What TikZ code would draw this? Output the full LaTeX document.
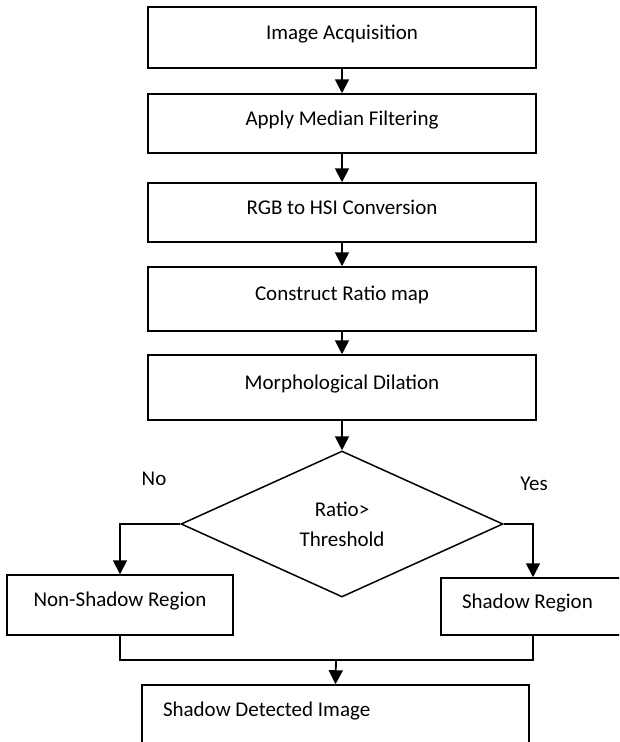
\documentclass[tikz,border=0pt]{standalone}
\usepackage{fontspec}
\setmainfont{Carlito}
\usetikzlibrary{shapes.geometric,arrows.meta}
\tikzset{
  stepbox/.style={draw, line width=1.5pt, rectangle, inner sep=0pt,
    text height=10pt, text depth=7pt, font=\fontsize{21}{30}\selectfont},
  decbox/.style={draw, line width=1.5pt, diamond, inner sep=0pt,
    minimum width=322pt, minimum height=146pt, align=center,
    font=\fontsize{21}{30}\selectfont},
  lbl/.style={inner sep=0pt, font=\fontsize{21}{25}\selectfont},
  arr/.style={line width=1.8pt, -{Triangle[width=14pt,length=14pt]}},
  conn/.style={line width=1.8pt},
}
\begin{document}
\begin{tikzpicture}[x=1pt,y=-1pt]
\useasboundingbox (0,0) rectangle (619,742);
\clip (0,0) rectangle (619,742);
\fill[white] (0,0) rectangle (619,742);
\node[stepbox, minimum width=388pt, minimum height=61pt] (b1) at (342,37.5) {Image Acquisition};
\node[stepbox, minimum width=388pt, minimum height=59pt] (b2) at (342,123.5) {Apply Median Filtering};
\node[stepbox, minimum width=388pt, minimum height=59pt] (b3) at (342,212.5) {RGB to HSI Conversion};
\node[stepbox, minimum width=388pt, minimum height=64pt] (b4) at (342,299) {Construct Ratio map};
\node[stepbox, minimum width=388pt, minimum height=65pt] (b5) at (342,387.5) {Morphological Dilation};
\node[decbox] (dec) at (342,524) {Ratio>\\Threshold};
\node[stepbox, minimum width=226pt, minimum height=60pt] (ns) at (120,605) {Non-Shadow Region};
\node[stepbox, text width=142pt, inner xsep=21pt, align=flush left, minimum height=57pt] (sh) at (533,606.5) {Shadow Region};
\node[stepbox, text width=345pt, inner xsep=21pt, align=flush left, minimum height=60pt] (out) at (335.5,715) {Shadow Detected Image};
\node[lbl] (no) at (154,479) {No};
\node[lbl] (yes) at (534,484) {Yes};
\coordinate (jn) at (336,660);
\draw[arr] (b1) -- (b2);
\draw[arr] (b2) -- (b3);
\draw[arr] (b3) -- (b4);
\draw[arr] (b4) -- (b5);
\draw[arr] (b5) -- (dec);
\draw[arr] (dec.west) -| (ns.north);
\draw[arr] (dec.east) -| (sh.north);
\draw[conn] (ns.south) |- (jn) -| (sh.south);
\draw[arr] (jn) -- (out.north);
\end{tikzpicture}
\end{document}
